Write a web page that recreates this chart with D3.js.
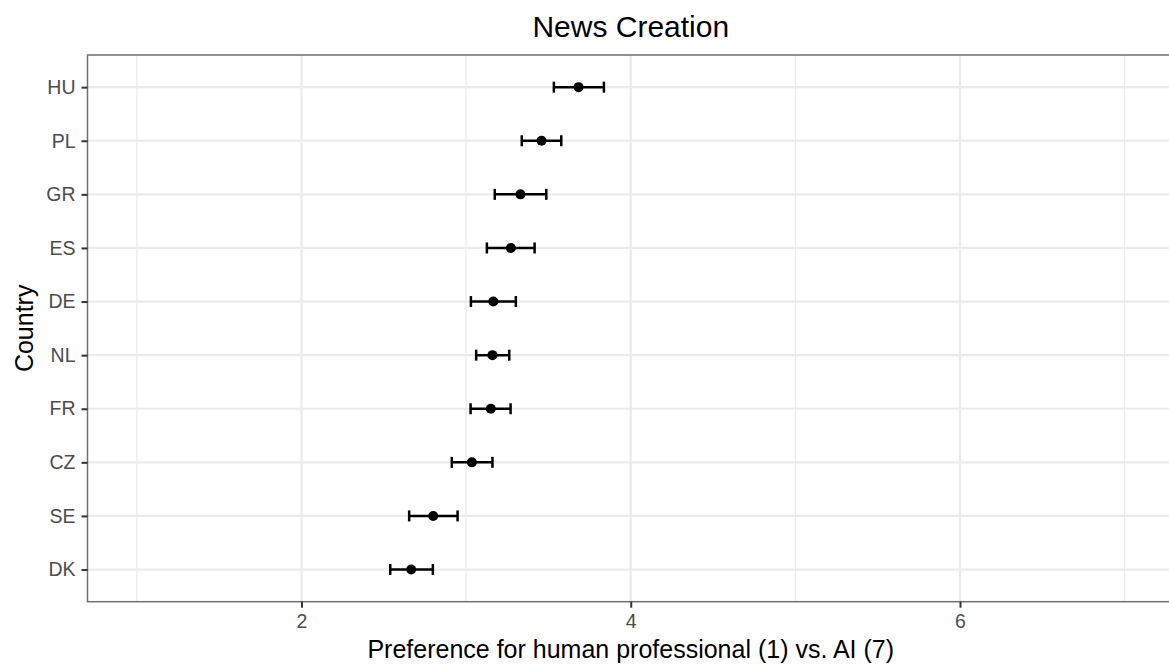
<!DOCTYPE html>
<html>
<head>
<meta charset="utf-8">
<script src="https://cdn.jsdelivr.net/npm/d3@7"></script>
<style>
  html, body { margin: 0; background: #fff; overflow: hidden; }
  svg { display: block; font-family: "Liberation Sans", Arial, sans-serif; }
</style>
</head>
<body>
<svg id="chart"></svg>
<script>
// countries from top to bottom
const countries = ['HU', 'PL', 'GR', 'ES', 'DE', 'NL', 'FR', 'CZ', 'SE', 'DK'];
const means = [3.683, 3.458, 3.330, 3.272, 3.165, 3.160, 3.150, 3.035, 2.800, 2.666];
const lower = [3.533, 3.338, 3.174, 3.126, 3.029, 3.061, 3.027, 2.913, 2.654, 2.539];
const upper = [3.837, 3.578, 3.487, 3.416, 3.302, 3.262, 3.270, 3.160, 2.948, 2.798];
const xTicks = [2, 4, 6];
const xMinor = [1, 3, 5, 7];

const width = 1169;
const height = 668;
const panelLeft = 87.5, panelTop = 55, panelBottom = 601.7, panelRight = 1174;

const svg = d3.select('#chart')
    .attr('width', width)
    .attr('height', height);

const x = d3.scaleLinear()
    .domain([0.7, 7.3])
    .range([panelLeft, panelRight]);

const y = d3.scalePoint()
    .domain(countries)
    .range([panelTop, panelBottom])
    .padding(0.6);

const rows = countries.map((c, i) => ({ country: c, mean: means[i], lo: lower[i], hi: upper[i] }));

// grid
const grid = svg.append('g');
grid.selectAll('.minor')
    .data(xMinor)
    .join('line')
    .attr('x1', d => x(d)).attr('x2', d => x(d))
    .attr('y1', panelTop).attr('y2', panelBottom)
    .attr('stroke', '#EBEBEB')
    .attr('stroke-width', 1.2);
grid.selectAll('.majorx')
    .data(xTicks)
    .join('line')
    .attr('x1', d => x(d)).attr('x2', d => x(d))
    .attr('y1', panelTop).attr('y2', panelBottom)
    .attr('stroke', '#EBEBEB')
    .attr('stroke-width', 2.2);
grid.selectAll('.majory')
    .data(countries)
    .join('line')
    .attr('x1', panelLeft).attr('x2', width)
    .attr('y1', d => y(d)).attr('y2', d => y(d))
    .attr('stroke', '#EBEBEB')
    .attr('stroke-width', 2.2);

// error bars
const bars = svg.append('g').attr('stroke', 'black').attr('stroke-width', 2.5);
bars.selectAll('.eb')
    .data(rows)
    .join('line')
    .attr('x1', d => x(d.lo)).attr('x2', d => x(d.hi))
    .attr('y1', d => y(d.country)).attr('y2', d => y(d.country));
bars.selectAll('.capl')
    .data(rows)
    .join('line')
    .attr('x1', d => x(d.lo)).attr('x2', d => x(d.lo))
    .attr('y1', d => y(d.country) - 5.5).attr('y2', d => y(d.country) + 5.5);
bars.selectAll('.caph')
    .data(rows)
    .join('line')
    .attr('x1', d => x(d.hi)).attr('x2', d => x(d.hi))
    .attr('y1', d => y(d.country) - 5.5).attr('y2', d => y(d.country) + 5.5);

svg.append('g').selectAll('circle')
    .data(rows)
    .join('circle')
    .attr('cx', d => x(d.mean))
    .attr('cy', d => y(d.country))
    .attr('r', 5)
    .attr('fill', 'black');

// panel border
svg.append('rect')
    .attr('x', panelLeft).attr('y', panelTop)
    .attr('width', panelRight - panelLeft).attr('height', panelBottom - panelTop)
    .attr('fill', 'none')
    .attr('stroke', '#6f6f6f')
    .attr('stroke-width', 1.5);

// axes
const gx = svg.append('g')
    .attr('transform', `translate(0, ${panelBottom})`)
    .call(d3.axisBottom(x).tickValues(xTicks).tickFormat(d3.format('d')).tickSize(6).tickPadding(6));
const gy = svg.append('g')
    .attr('transform', `translate(${panelLeft}, 0)`)
    .call(d3.axisLeft(y).tickSize(6).tickPadding(6));

[gx, gy].forEach(g => {
    g.select('.domain').remove();
    g.selectAll('.tick line').attr('stroke', '#333333').attr('stroke-width', 2);
    g.selectAll('.tick text')
        .attr('fill', '#4D4D4D')
        .style('font-size', '19.5px')
        .style('font-family', '"Liberation Sans", Arial, sans-serif');
});

// titles
svg.append('text')
    .attr('x', (panelLeft + panelRight) / 2)
    .attr('y', 37)
    .attr('text-anchor', 'middle')
    .style('font-size', '30px')
    .text('News Creation');

svg.append('text')
    .attr('x', (panelLeft + panelRight) / 2)
    .attr('y', 658)
    .attr('text-anchor', 'middle')
    .style('font-size', '25px')
    .text('Preference for human professional (1) vs. AI (7)');

svg.append('text')
    .attr('transform', `translate(33, ${(panelTop + panelBottom) / 2}) rotate(-90)`)
    .attr('text-anchor', 'middle')
    .style('font-size', '25px')
    .text('Country');
</script>
</body>
</html>
